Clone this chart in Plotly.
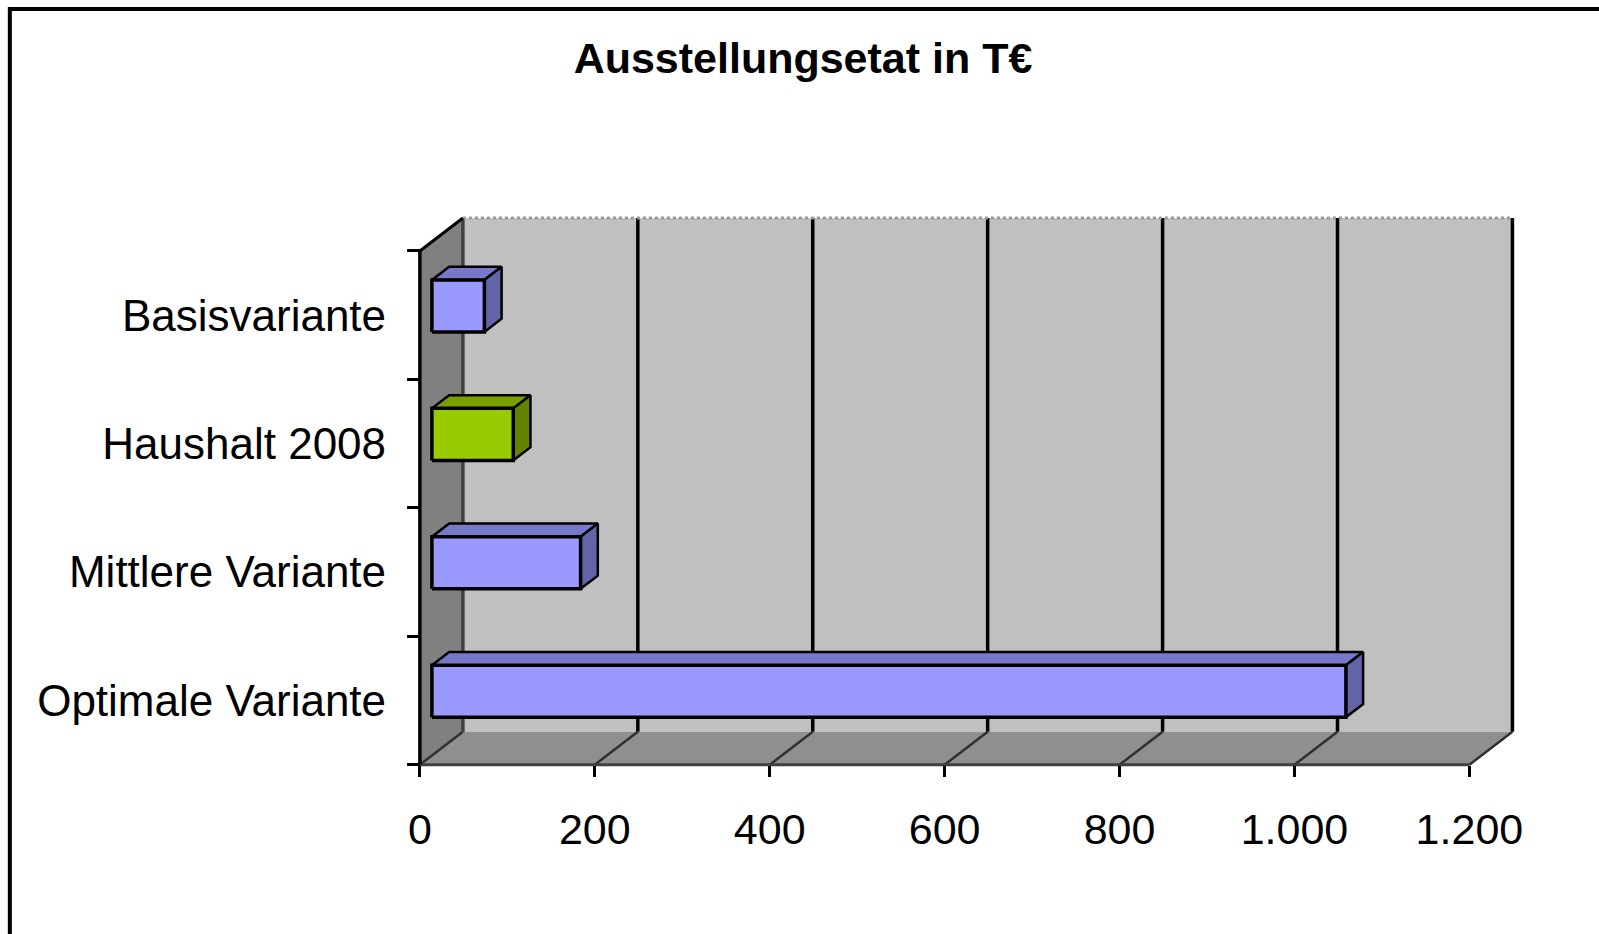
import plotly.graph_objects as go

# ---------------- data ----------------
categories = ["Basisvariante", "Haushalt 2008", "Mittlere Variante", "Optimale Variante"]
values = [60, 93, 170, 1045]
front_colors = ["#9999FF", "#99CC00", "#9999FF", "#9999FF"]
top_colors = ["#7878C8", "#7A9F00", "#7878C8", "#7878C8"]
side_colors = ["#6464A8", "#628200", "#6464A8", "#6464A8"]
x_tickvals = [0, 200, 400, 600, 800, 1000, 1200]
x_ticktext = ["0", "200", "400", "600", "800", "1.000", "1.200"]
title_text = "Ausstellungsetat in T€"

# ---------------- geometry / style ----------------
W, H = 1599, 934
N = len(categories)
X_MAX = x_tickvals[-1]
DX = 49.2      # depth shift (x units)
DY = 0.257     # depth shift (category units)
D0, D1 = 0.28, 0.68
BAR_H = 0.405
K = 1049.5 / 1200.0   # px per x unit
CAT_PX = 128.5        # px per category
X0_PX, Y0_PX = 420.0, 765.0
XR = [-25, 1275]
YR = [-0.15, 4.35]
ml = X0_PX + XR[0] * K
mr = W - (X0_PX + XR[1] * K)
mt = Y0_PX - YR[1] * CAT_PX
mb = H - (Y0_PX - YR[0] * CAT_PX)
PW = W - ml - mr
PH = H - mt - mb
FONT = "Liberation Sans, Arial, sans-serif"


def px_to_paper_x(p):
    return (p - ml) / PW


def px_to_paper_y(p):
    return (H - mb - p) / PH


def path(pts):
    return "M " + " L ".join(f"{x},{y}" for x, y in pts) + " Z"


shapes = []
# back wall
shapes.append(dict(type="path", xref="x", yref="y", layer="below",
                   path=path([(DX, DY), (X_MAX + DX, DY), (X_MAX + DX, N + DY), (DX, N + DY)]),
                   fillcolor="#C0C0C0", line=dict(width=0)))
# left wall
shapes.append(dict(type="path", xref="x", yref="y", layer="below",
                   path=path([(0, 0), (0, N), (DX, N + DY), (DX, DY)]),
                   fillcolor="#808080", line=dict(width=0)))
# floor
shapes.append(dict(type="path", xref="x", yref="y", layer="below",
                   path=path([(0, 0), (X_MAX, 0), (X_MAX + DX, DY), (DX, DY)]),
                   fillcolor="#8F8F8F", line=dict(width=0)))
# back wall gridlines
for v in x_tickvals[1:]:
    shapes.append(dict(type="line", xref="x", yref="y", layer="below",
                       x0=v + DX, x1=v + DX, y0=DY, y1=N + DY,
                       line=dict(color="black", width=3.5)))
# left wall back edge
shapes.append(dict(type="line", xref="x", yref="y", layer="below",
                   x0=DX, x1=DX, y0=DY, y1=N + DY, line=dict(color="#404040", width=3.5)))
# back wall top edge (dotted)
shapes.append(dict(type="line", xref="x", yref="y", layer="below",
                   x0=DX, x1=X_MAX + DX, y0=N + DY, y1=N + DY,
                   line=dict(color="#9A9A9A", width=3, dash="dot")))
# floor diagonals
for v in x_tickvals:
    shapes.append(dict(type="line", xref="x", yref="y", layer="below",
                       x0=v, x1=v + DX, y0=0, y1=DY, line=dict(color="#303030", width=2.5)))
# floor front edge
shapes.append(dict(type="line", xref="x", yref="y", layer="below",
                   x0=0, x1=X_MAX, y0=0, y1=0, line=dict(color="#404040", width=3)))
# left front edge and top diagonal
shapes.append(dict(type="line", xref="x", yref="y", layer="below",
                   x0=0, x1=0, y0=0, y1=N, line=dict(color="black", width=3.5)))
shapes.append(dict(type="line", xref="x", yref="y", layer="below",
                   x0=0, x1=DX, y0=N, y1=N + DY, line=dict(color="black", width=3)))
# outer chart border
shapes.append(dict(type="rect", xref="paper", yref="paper",
                   x0=px_to_paper_x(10), x1=px_to_paper_x(1640),
                   y0=px_to_paper_y(960), y1=px_to_paper_y(9),
                   line=dict(color="black", width=4), fillcolor="rgba(0,0,0,0)"))

fig = go.Figure()

centers = [N - 0.5 - i for i in range(N)]
for cat, v, yc, cf, ct, cs in zip(categories, values, centers, front_colors, top_colors, side_colors):
    xa0 = D0 * DX
    xa1 = v + D0 * DX
    yb = yc - BAR_H / 2 + D0 * DY
    yt = yc + BAR_H / 2 + D0 * DY
    ddx = (D1 - D0) * DX
    ddy = (D1 - D0) * DY
    # top face
    fig.add_trace(go.Scatter(
        x=[xa0, xa1, xa1 + ddx, xa0 + ddx, xa0],
        y=[yt, yt, yt + ddy, yt + ddy, yt],
        fill="toself", fillcolor=ct, mode="lines",
        line=dict(color="black", width=2.5), hoverinfo="skip", showlegend=False))
    # side face
    fig.add_trace(go.Scatter(
        x=[xa1, xa1 + ddx, xa1 + ddx, xa1, xa1],
        y=[yb, yb + ddy, yt + ddy, yt, yb],
        fill="toself", fillcolor=cs, mode="lines",
        line=dict(color="black", width=2.5), hoverinfo="skip", showlegend=False))
    # front face
    fig.add_trace(go.Scatter(
        x=[xa0, xa1, xa1, xa0, xa0],
        y=[yb, yb, yt, yt, yb],
        fill="toself", fillcolor=cf, mode="lines", name=cat,
        line=dict(color="black", width=3.5), showlegend=False,
        hovertemplate=f"{cat}: {v}<extra></extra>"))

fig.update_layout(
    width=W, height=H,
    margin=dict(l=ml, r=mr, t=mt, b=mb, pad=0),
    paper_bgcolor="white", plot_bgcolor="rgba(0,0,0,0)",
    showlegend=False,
    title=dict(text=f"<b>{title_text}</b>", x=803 / W, y=1 - 58 / H,
               xanchor="center", yanchor="middle",
               font=dict(family=FONT, size=43, color="black")),
    shapes=shapes,
    xaxis=dict(range=XR, anchor="free", position=(0 - YR[0]) / (YR[1] - YR[0]),
               tickmode="array", tickvals=x_tickvals, ticktext=x_ticktext,
               ticks="outside", ticklen=11, tickwidth=3, tickcolor="black",
               showgrid=False, zeroline=False, showline=False,
               tickfont=dict(family=FONT, size=43, color="black"), ticklabelstandoff=16),
    yaxis=dict(range=YR, anchor="free", position=(0 - XR[0]) / (XR[1] - XR[0]),
               tickmode="array", tickvals=centers, ticktext=categories,
               ticks="outside", ticklen=0, tickwidth=0,
               showgrid=False, zeroline=False, showline=False,
               tickfont=dict(family=FONT, size=44, color="black"), ticklabelstandoff=25,
               minor=dict(tickvals=list(range(N + 1)), ticks="outside", ticklen=13,
                          tickwidth=3, tickcolor="black", showgrid=False)),
)

fig.write_html("out.html", config={"displayModeBar": False},
               post_script="document.body.style.margin='0px';")
